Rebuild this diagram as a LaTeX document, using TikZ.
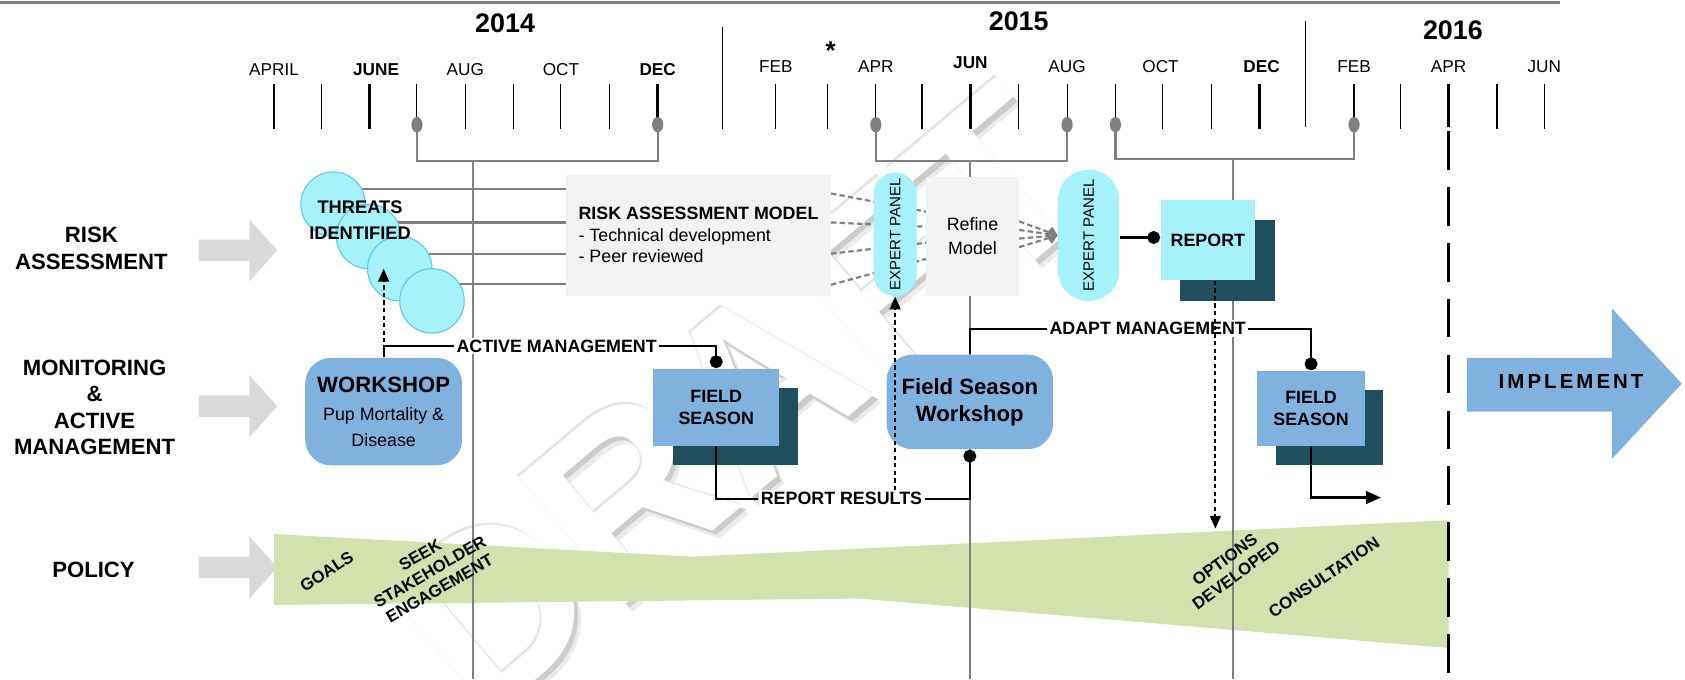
\documentclass[tikz,border=0pt]{standalone}
\usepackage{fontspec}
\setmainfont{Liberation Sans}
\usetikzlibrary{arrows.meta}
\definecolor{cyanf}{HTML}{A6F2F9}
\definecolor{cyand}{HTML}{5BC8EE}
\definecolor{bluef}{HTML}{80B2E0}
\definecolor{darkteal}{HTML}{1F4E5C}
\definecolor{boxgray}{HTML}{F2F2F2}
\definecolor{arrgray}{HTML}{D9D9D9}
\definecolor{bandgreen}{HTML}{D3E2AC}
\definecolor{tlgray}{HTML}{808080}
\tikzset{
  tl/.style={draw=tlgray, line width=1pt},
  tick/.style={draw=black, line width=0.5pt},
  btick/.style={draw=black, line width=1.2pt},
  conn/.style={draw=black, line width=1pt},
  dotarr/.style={draw=black, line width=1pt, dash pattern=on 2pt off 1.5pt, -{Triangle[length=6pt,width=5pt]}},
  enddot/.style={-{Circle[length=6pt]}},
  gdash/.style={draw=tlgray, line width=1pt, dash pattern=on 2.5pt off 1.5pt},
  monthf/.style={font=\fontsize{8}{9}\selectfont, inner sep=0pt},
  monthb/.style={font=\bfseries\fontsize{8}{9}\selectfont, inner sep=0pt},
  yearf/.style={font=\bfseries\fontsize{12.5}{14}\selectfont, inner sep=0pt},
  rowlab/.style={font=\bfseries\fontsize{10.3}{12.3}\selectfont, align=center, inner sep=0pt},
  lab/.style={fill=white, inner sep=1pt, font=\bfseries\fontsize{8.3}{10}\selectfont},
  threat/.style={circle, draw=cyand, line width=0.5pt, fill=cyanf, minimum size=30pt, inner sep=0pt},
  graybox/.style={fill=boxgray, inner sep=0pt},
  pill/.style={fill=cyanf, inner sep=0pt},
  cyanbox/.style={fill=cyanf, inner sep=0pt, font=\bfseries\fontsize{8.3}{10}\selectfont},
  bluebox/.style={fill=bluef, inner sep=0pt, align=center, font=\bfseries\fontsize{8.3}{10.5}\selectfont},
  shadowbox/.style={fill=darkteal, inner sep=0pt},
  roundblue/.style={fill=bluef, rounded corners=12pt, inner sep=0pt, align=center},
  bandtxt/.style={font=\bfseries\fontsize{7.8}{9}\selectfont, align=center, inner sep=0pt},
  rowarrow/.style={fill=arrgray},
  draftf/.style={font=\bfseries\fontsize{112}{112}\selectfont, rotate=40, inner sep=0pt}
}
\begin{document}
\begin{tikzpicture}[x=0.5pt,y=-0.5pt]
\useasboundingbox (0,0) rectangle (1568,632);

% watermark (white letters with a soft grey shadow)
\node[draftf, text=black!8] (dr0) at (695,380) {DRAFT};
\node[draftf, text=black!20] (dr1) at (692,377) {DRAFT};
\node[draftf, text=black!10] (dr2) at (686,371) {DRAFT};
\node[draftf, text=white] (dr) at (688,373) {DRAFT};

% top rule
\draw[draw=tlgray, line width=1.5pt] (0,2) -- (1452,2);

% years
\node[yearf] (y14) at (470,22) {2014};
\node[yearf] (y15) at (948,20) {2015};
\node[yearf] (y16) at (1352,28) {2016};
\node[font=\bfseries\fontsize{12}{12}\selectfont, inner sep=0pt] (star) at (773,47) {*};

% months
\node[monthf] (m1) at (255,65) {APRIL};
\node[monthb] (m2) at (350,65) {JUNE};
\node[monthf] (m3) at (433,65) {AUG};
\node[monthf] (m4) at (522,65) {OCT};
\node[monthb] (m5) at (612,65) {DEC};
\node[monthf] (m6) at (722,62) {FEB};
\node[monthf] (m7) at (815,62) {APR};
\node[monthb] (m8) at (903,58) {JUN};
\node[monthf] (m9) at (993,62) {AUG};
\node[monthf] (m10) at (1080,62) {OCT};
\node[monthb] (m11) at (1174,62) {DEC};
\node[monthf] (m12) at (1260,62) {FEB};
\node[monthf] (m13) at (1348,62) {APR};
\node[monthf] (m14) at (1437,62) {JUN};

% ticks
\foreach \x in {255,299,433,478,522,567,722,770,858,948,1082,1127,1303,1393,1437}
  \draw[tick] (\x,78) -- (\x,120);
\foreach \x in {344,903,1172}
  \draw[btick] (\x,78) -- (\x,120);
\foreach \x in {388,815,993,1038,1260}
  \draw[tick] (\x,78) -- (\x,116);
\draw[btick] (612,78) -- (612,116);
\draw[tick] (672,25) -- (672,120);
\draw[tick] (1215,20) -- (1215,118);
\draw[btick] (1348,78) -- (1348,118);

% brackets
\draw[tl] (388,116) -- (388,150) -- (612,150) -- (612,116);
\draw[tl] (815,116) -- (815,150) -- (993,150) -- (993,116);
\draw[tl] (1038,116) -- (1038,148) -- (1260,148) -- (1260,116);
\foreach \x in {388,612,815,993,1038,1260}
  \fill[tlgray] (\x,116) ellipse (2.6pt and 3.6pt);

% policy band
\fill[bandgreen] (255,497) -- (645,518) -- (1348,484) -- (1348,603) -- (800,557) -- (255,563) -- cycle;

% stems
\draw[tl] (440,150) -- (440,632);
\draw[tl] (903,150) -- (903,632);
\draw[tl] (1147,148) -- (1147,632);

% big dashed line
\draw[draw=black, line width=1.6pt, dash pattern=on 18pt off 8pt] (1348,122) -- (1348,632);

% row arrows
\foreach \c in {233,378,528}
  \fill[rowarrow] (185,\c-10) -- (232,\c-10) -- (232,\c-29) -- (258,\c) -- (232,\c+29) -- (232,\c+10) -- (185,\c+10) -- cycle;

% row labels
\node[rowlab] (rl1) at (85,231) {RISK\\ASSESSMENT};
\node[rowlab] (rl2) at (88,379) {MONITORING\\\&\\ACTIVE\\MANAGEMENT};
\node[rowlab] (rl3) at (87,530) {POLICY};

% risk assessment model box
\node[graybox, minimum width=123pt, minimum height=56pt, align=left, font=\fontsize{8.3}{10}\selectfont] (ra) at (650,219)
  {\textbf{RISK ASSESSMENT MODEL}\\- Technical development\\- Peer reviewed};

% lines from threats to model
\draw[tl] (310,176) -- (ra.west |- 0,176);
\draw[tl] (343,207) -- (ra.west |- 0,207);
\draw[tl] (372,236) -- (ra.west |- 0,236);
\draw[tl] (402,264) -- (ra.west |- 0,264);

% threat circles
\node[threat] (c1) at (310,190) {};
\node[threat] (c2) at (343,220) {};
\node[threat] (c3) at (372,250) {};
\node[threat] (c4) at (402,280) {};
\node[font=\bfseries\fontsize{8.5}{12}\selectfont, align=center, inner sep=0pt] (thr) at (335,205) {THREATS\\IDENTIFIED};

% refine model
\node[graybox, minimum width=43pt, minimum height=55pt, align=center, font=\fontsize{8.3}{11}\selectfont] (ref) at (905,220) {Refine\\Model};

% dashed lines model -> refine
\draw[gdash] (ra.east |- 0,180) -- (ref.west |- 0,197);
\draw[gdash] (ra.east |- 0,207) -- (ref.west |- 0,211);
\draw[gdash] (ra.east |- 0,236) -- (ref.west |- 0,226);
\draw[gdash] (ra.east |- 0,265) -- (ref.west |- 0,241);

% expert panels
\node[pill, minimum width=20pt, minimum height=57.5pt, rounded corners=10pt] (ep1) at (833,218) {};
\node[rotate=90, font=\fontsize{7}{8}\selectfont, inner sep=0pt] (ep1t) at (ep1) {EXPERT PANEL};
\node[pill, minimum width=28.5pt, minimum height=61pt, rounded corners=14pt] (ep2) at (1013,219) {};
\node[rotate=90, font=\fontsize{7}{8}\selectfont, inner sep=0pt] (ep2t) at (ep2) {EXPERT PANEL};

% dashed refine -> expert panel 2
\foreach \yy in {206,214,222,230}
  \draw[gdash, -{Straight Barb[length=3pt,width=5pt]}] (ref.east |- 0,\yy) -- (ep2.west);

% report
\node[shadowbox, minimum width=44pt, minimum height=37.5pt] (reps) at (1142,242.5) {};
\node[cyanbox, minimum width=44pt, minimum height=37.5pt] (rep) at (1124,223.5) {REPORT};
\draw[conn, enddot] (ep2.east |- 0,221) -- (rep.west |- 0,221);

% monitoring row
\node[roundblue, minimum width=73pt, minimum height=50pt] (ws) at (357,383)
  {{\bfseries\fontsize{10.3}{12}\selectfont WORKSHOP}\\[1pt]{\fontsize{8.3}{9.5}\selectfont Pup Mortality \&}\\{\fontsize{8.3}{9.5}\selectfont Disease}};
\node[shadowbox, minimum width=58.5pt, minimum height=36pt] (fs1s) at (684.5,397) {};
\node[bluebox, minimum width=58.5pt, minimum height=36pt] (fs1) at (666.5,379) {FIELD\\SEASON};
\node[roundblue, minimum width=77.5pt, minimum height=44pt, font=\bfseries\fontsize{10.3}{12.5}\selectfont] (fsw) at (902.5,374) {Field Season\\Workshop};
\node[shadowbox, minimum width=50pt, minimum height=35pt] (fs2s) at (1237,397.5) {};
\node[bluebox, minimum width=50pt, minimum height=35pt] (fs2) at (1220,380) {FIELD\\SEASON};

% connector labels
\node[lab] (am) at (518,322) {ACTIVE MANAGEMENT};
\node[lab] (rr) at (783,464) {REPORT RESULTS};
\node[lab] (adm) at (1068,306) {ADAPT MANAGEMENT};

% connectors
\draw[conn] (ws.north) |- (am);
\draw[conn, enddot] (am) -| (fs1.north);
\draw[conn] (fs1.south) |- (rr);
\draw[conn, enddot] (rr) -| (fsw.south);
\draw[conn] (fsw.north) |- (adm);
\draw[conn, enddot] (adm) -| (fs2.north);
\coordinate (fsend) at (1285,463);
\draw[conn, -{Triangle[length=7pt,width=6pt]}] (fs2.south) |- (fsend);

\draw[dotarr] (ws.north) -- (ws.north |- c3);
\coordinate (rrup) at (833,456);
\draw[dotarr] (rrup) -- (ep1.south);
\coordinate (optarr) at (1131,492);
\draw[dotarr] ([xshift=3.5pt]rep.south) -- (optarr);

% implement arrow
\fill[bluef] (1365,333) -- (1500,333) -- (1500,287) -- (1565,357) -- (1500,427) -- (1500,383) -- (1365,383) -- cycle;
\node[font=\bfseries\fontsize{9.5}{11}\selectfont\addfontfeature{LetterSpace=15}, inner sep=0pt] (impl) at (1462,355) {IMPLEMENT};

% band texts
\node[bandtxt, rotate=33] (goals) at (304,532) {GOALS};
\node[bandtxt, rotate=30] (seek) at (400,532) {SEEK\\STAKEHOLDER\\ENGAGEMENT};
\node[bandtxt, rotate=36] (opts) at (1145,528) {OPTIONS\\DEVELOPED};
\node[bandtxt, rotate=34] (cons) at (1232,537) {CONSULTATION};
\end{tikzpicture}
\end{document}
